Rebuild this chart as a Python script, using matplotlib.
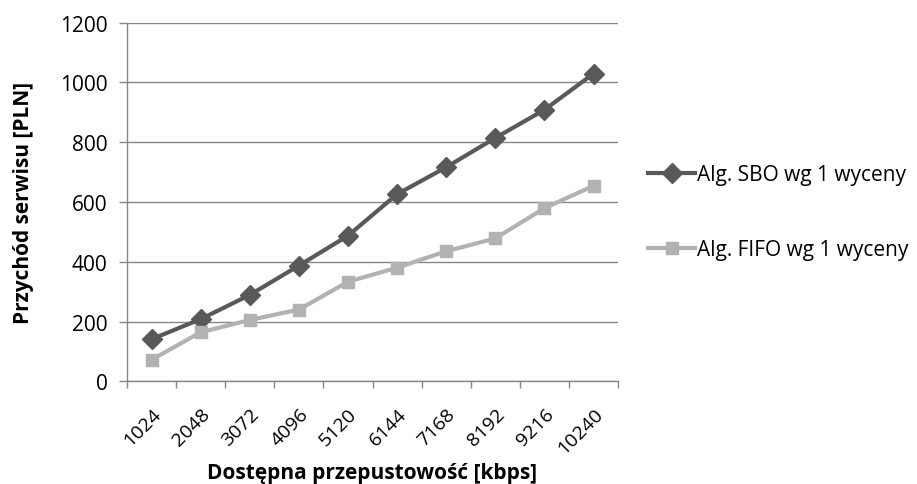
import matplotlib
matplotlib.use("Agg")
import matplotlib.pyplot as plt
import matplotlib.transforms as mtransforms
import numpy as np

categories = ["1024", "2048", "3072", "4096", "5120", "6144", "7168", "8192", "9216", "10240"]
sbo = [141, 208, 289, 387, 487, 626, 716, 814, 908, 1029]
fifo = [72, 164, 205, 240, 333, 380, 435, 478, 579, 654]
series_names = ["Alg. SBO wg 1 wyceny", "Alg. FIFO wg 1 wyceny"]
yticks = [0, 200, 400, 600, 800, 1000, 1200]

plt.rcParams['font.family'] = ['Open Sans', 'DejaVu Sans']
FS = 15
TFS = 14

fig = plt.figure(figsize=(9.17, 4.85), dpi=100)
ax = fig.add_axes([0.1385, 0.2117, 0.5355, 0.7398])

x = np.arange(len(categories))
grid_c = "#868686"
ax.plot(x, sbo, color="#595959", lw=3, marker="D", markersize=10, label=series_names[0], zorder=3)
ax.plot(x, fifo, color="#B2B2B2", lw=3, marker="s", markersize=8, label=series_names[1], zorder=3)

ax.set_xlim(-0.5, len(categories) - 0.5)
ax.set_ylim(0, 1200)
ax.set_yticks(yticks)
ax.set_yticklabels([str(v) for v in yticks], fontsize=FS)
ax.yaxis.grid(True, color=grid_c, lw=1)
ax.set_axisbelow(True)

ax.set_xticks(x)
ax.set_xticklabels(categories, rotation=45, ha="right", va="top", rotation_mode="anchor", fontsize=TFS)
offset = mtransforms.ScaledTranslation(2 / 100, 0, fig.dpi_scale_trans)
for lbl in ax.get_xticklabels():
    lbl.set_transform(lbl.get_transform() + offset)
ax.set_xticks(np.arange(len(categories) + 1) - 0.5, minor=True)
ax.tick_params(axis="x", which="major", length=0, pad=17)
ax.tick_params(axis="x", which="minor", length=5, color=grid_c, width=1)
ax.tick_params(axis="y", length=6, color=grid_c, width=1, pad=8)

for s in ["top", "right"]:
    ax.spines[s].set_visible(False)
for s in ["left", "bottom"]:
    ax.spines[s].set_color(grid_c)
    ax.spines[s].set_linewidth(1)

ax.set_xlabel("Dostępna przepustowość [kbps]", fontsize=FS, fontweight="bold")
ax.xaxis.set_label_coords(0.5, -0.226)
ax.set_ylabel("Przychód serwisu [PLN]", fontsize=FS, fontweight="bold")
ax.yaxis.set_label_coords(-0.19, 0.5)

fig.legend(loc="center left", bbox_to_anchor=(0.698, 0.56), frameon=False, fontsize=FS,
           handlelength=2.25, handletextpad=0.1, labelspacing=2.6, borderaxespad=0)

fig.savefig("out.png", dpi=100)
